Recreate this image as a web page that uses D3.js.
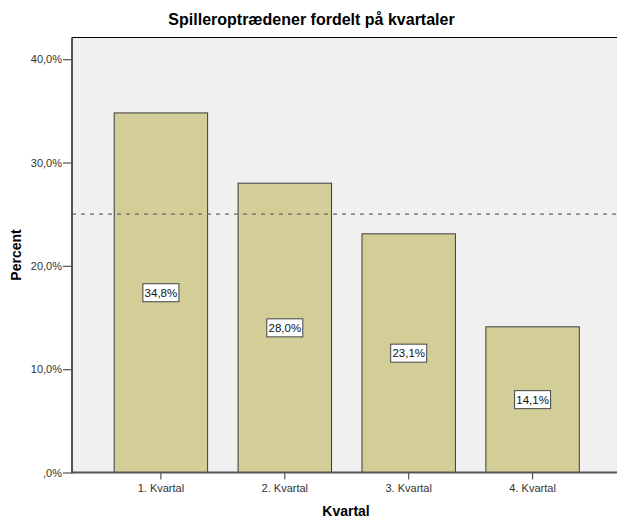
<!DOCTYPE html>
<html>
<head>
<meta charset="utf-8">
<script src="https://cdn.jsdelivr.net/npm/d3@7"></script>
<style>
  body { margin: 0; background: #fff; }
  text { font-family: "Liberation Sans", Arial, sans-serif; }
</style>
</head>
<body>
<div id="chart"></div>
<script>
var categories = ["1. Kvartal", "2. Kvartal", "3. Kvartal", "4. Kvartal"],
    values = [34.8, 28.0, 23.1, 14.1],
    valueLabels = ["34,8%", "28,0%", "23,1%", "14,1%"],
    yTicks = [0, 10, 20, 30, 40],
    yTickLabels = [",0%", "10,0%", "20,0%", "30,0%", "40,0%"],
    refLine = [25];

var width = 617,
    height = 518,
    plot = { left: 72, right: 617, top: 37.5, bottom: 472.5 };

var svg = d3.select('#chart')
    .append("svg")
    .attr("width", width)
    .attr("height", height);

var x = d3.scaleBand()
    .domain(categories)
    .range([114.2, 579.3])
    .paddingInner(0.246)
    .paddingOuter(0);

var y = d3.scaleLinear()
    .domain([0, 42.1])
    .range([plot.bottom, plot.top]);

// plot background
svg.append("rect")
    .attr("x", plot.left)
    .attr("y", plot.top)
    .attr("width", plot.right - plot.left)
    .attr("height", plot.bottom - plot.top)
    .attr("fill", "#f0f0f0");

// top border
svg.append("line")
    .attr("x1", plot.left).attr("x2", plot.right)
    .attr("y1", plot.top).attr("y2", plot.top)
    .attr("stroke", "#000")
    .attr("stroke-width", 1.2);

// bars
svg.selectAll(".bar")
    .data(values)
    .enter().append("rect")
    .attr("class", "bar")
    .attr("x", function (d, i) { return x(categories[i]); })
    .attr("y", function (d) { return y(d); })
    .attr("width", x.bandwidth())
    .attr("height", function (d) { return y(0) - y(d); })
    .attr("fill", "#d3ce98")
    .attr("stroke", "#3a3a3a")
    .attr("stroke-width", 1);

// reference line at 25%
svg.selectAll(".ref")
    .data(refLine)
    .enter().append("line")
    .attr("class", "ref")
    .attr("x1", plot.left).attr("x2", plot.right)
    .attr("y1", function (d) { return y(d); })
    .attr("y2", function (d) { return y(d); })
    .attr("stroke", "#666")
    .attr("stroke-width", 1.2)
    .attr("stroke-dasharray", "4,5");

// value labels
var lab = svg.selectAll(".lab")
    .data(values)
    .enter().append("g")
    .attr("class", "lab")
    .attr("transform", function (d, i) {
        return "translate(" + (x(categories[i]) + x.bandwidth() / 2) + "," + y(d / 2) + ")";
    });

lab.append("rect")
    .attr("x", -18).attr("y", -9)
    .attr("width", 36).attr("height", 18)
    .attr("fill", "#fff")
    .attr("stroke", "#444")
    .attr("stroke-width", 1);

lab.append("text")
    .attr("text-anchor", "middle")
    .attr("dy", "0.36em")
    .style("font-size", "11.5px")
    .attr("fill", "#111")
    .text(function (d, i) { return valueLabels[i]; });

// y axis
var yAxis = svg.append("g")
    .attr("transform", "translate(" + plot.left + ",0)")
    .call(d3.axisLeft(y)
        .tickValues(yTicks)
        .tickFormat(function (d, i) { return yTickLabels[i]; })
        .tickSize(9)
        .tickPadding(1)
        .tickSizeOuter(0));
yAxis.select(".domain").remove();
yAxis.selectAll("line").attr("stroke", "#555").attr("stroke-width", 1.2);
yAxis.selectAll("text").style("font-size", "11px").attr("fill", "#333")
    .style("font-family", "'Liberation Sans', Arial, sans-serif");

// x axis
var xAxis = svg.append("g")
    .attr("transform", "translate(0," + plot.bottom + ")")
    .call(d3.axisBottom(x).tickSize(7).tickPadding(5).tickSizeOuter(0));
xAxis.select(".domain").remove();
xAxis.selectAll("line").attr("stroke", "#555").attr("stroke-width", 1.2);
xAxis.selectAll("text").style("font-size", "11px").attr("fill", "#333")
    .style("font-family", "'Liberation Sans', Arial, sans-serif");

// axis lines
svg.append("line")
    .attr("x1", plot.left).attr("x2", plot.left)
    .attr("y1", plot.top).attr("y2", plot.bottom + 1)
    .attr("stroke", "#555").attr("stroke-width", 2);
svg.append("line")
    .attr("x1", plot.left).attr("x2", plot.right)
    .attr("y1", plot.bottom).attr("y2", plot.bottom)
    .attr("stroke", "#555").attr("stroke-width", 2);

// title
svg.append("text")
    .attr("x", 311.5)
    .attr("y", 25)
    .attr("text-anchor", "middle")
    .style("font-size", "16px")
    .style("font-weight", "bold")
    .text("Spilleroptrædener fordelt på kvartaler");

// axis titles
svg.append("text")
    .attr("x", 346)
    .attr("y", 516)
    .attr("text-anchor", "middle")
    .style("font-size", "14px")
    .style("font-weight", "bold")
    .text("Kvartal");

svg.append("text")
    .attr("transform", "translate(21,255) rotate(-90)")
    .attr("text-anchor", "middle")
    .style("font-size", "14px")
    .style("font-weight", "bold")
    .text("Percent");
</script>
</body>
</html>
